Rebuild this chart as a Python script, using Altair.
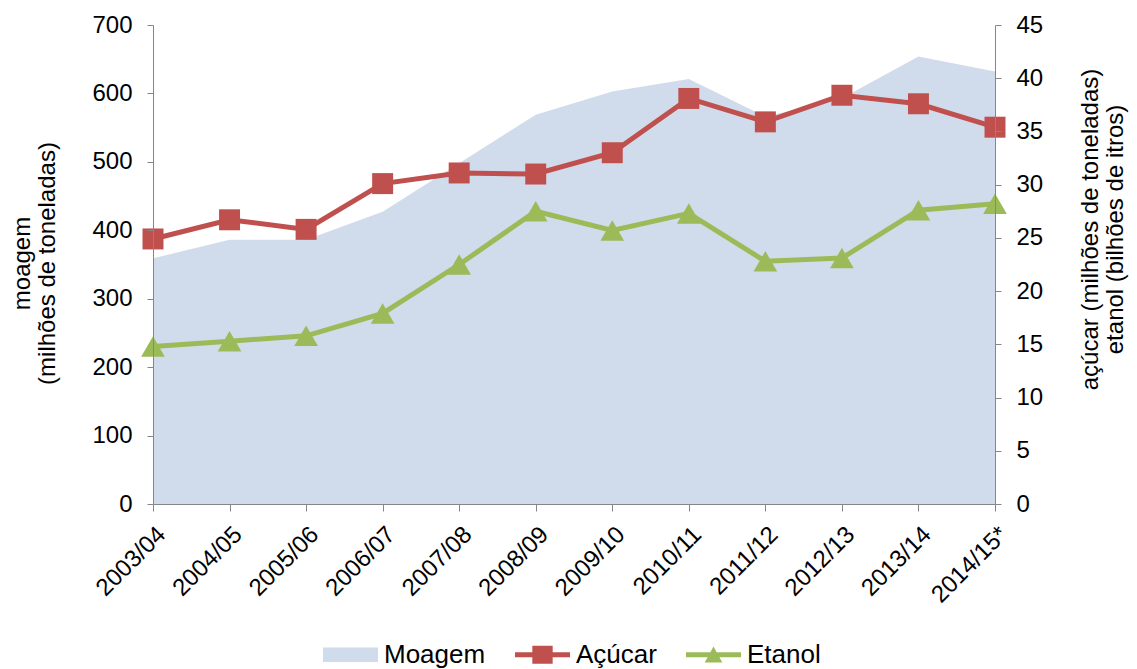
import altair as alt
import pandas as pd

# ---- data ----
safras = ["2003/04", "2004/05", "2005/06", "2006/07", "2007/08", "2008/09",
          "2009/10", "2010/11", "2011/12", "2012/13", "2013/14", "2014/15*"]
moagem = [359, 386, 386, 427, 498, 569, 603, 621, 566, 593, 654, 632]
acucar = [24.9, 26.7, 25.8, 30.1, 31.1, 31.0, 33.0, 38.1, 35.9, 38.4, 37.6, 35.4]
etanol = [14.8, 15.3, 15.8, 17.9, 22.5, 27.5, 25.7, 27.3, 22.8, 23.1, 27.6, 28.2]

left_ticks = [0, 100, 200, 300, 400, 500, 600, 700]
right_ticks = [0, 5, 10, 15, 20, 25, 30, 35, 40, 45]

legend_labels = ["Moagem", "Açúcar", "Etanol"]
left_title = ["moagem", "(milhões de toneladas)"]
right_title = ["açúcar (milhões de toneladas)", "etanol (bilhões de itros)"]

# ---- styles ----
FONT = "Liberation Sans"
C_AREA = "#D0DCEC"
C_RED = "#C0504D"
C_GREEN = "#9BBB59"
AXIS_GRAY = "#868686"
legend_colors = [C_AREA, C_RED, C_GREEN]
legend_shapes = [
    "M-1,-0.26H1V0.26H-1Z",
    "M-1,-0.095H1V0.095H-1Z M-0.37,-0.33H0.37V0.33H-0.37Z",
    "M-1,-0.095H1V0.095H-1Z M0,-0.3L0.32,0.28L-0.32,0.28Z",
]

df_left = pd.DataFrame({"safra": safras, "moagem": moagem})
df_right = pd.DataFrame({
    "safra": safras * 2,
    "serie": ["Açúcar"] * len(safras) + ["Etanol"] * len(safras),
    "valor": acucar + etanol,
})
df_legend = pd.DataFrame({"serie": legend_labels})

x_enc = alt.X(
    "safra:N", sort=safras, scale=alt.Scale(padding=0),
    axis=alt.Axis(title=None, labelAngle=-45, labelAlign="right", labelBaseline="top",
                  labelPadding=11, tickSize=7, labelFontSize=24, labelFont=FONT,
                  labelColor="black", domainColor=AXIS_GRAY, tickColor=AXIS_GRAY,
                  zindex=1),
)

area = alt.Chart(df_left).mark_area(color=C_AREA, opacity=1).encode(
    x=x_enc,
    y=alt.Y("moagem:Q", scale=alt.Scale(domain=[0, 700], nice=False),
            axis=alt.Axis(values=left_ticks, title=left_title, orient="left",
                          titleAngle=-90, titleBaseline="middle", titleAlign="center",
                          titleX=-131, titleY=238, titleFontSize=24,
                          titleFontWeight="normal", titleFont=FONT, titleColor="black",
                          titleLineHeight=25, labelFontSize=24, labelFont=FONT,
                          labelColor="black", labelPadding=15, tickSize=6,
                          domainColor=AXIS_GRAY, tickColor=AXIS_GRAY, grid=False,
                          zindex=1)),
)

y_right = alt.Y("valor:Q", scale=alt.Scale(domain=[0, 45], nice=False),
                axis=alt.Axis(values=right_ticks, title=right_title, orient="right",
                              titleAngle=-90, titleBaseline="middle", titleAlign="center",
                              titleX=95, titleY=204, titleFontSize=24,
                              titleFontWeight="normal", titleFont=FONT, titleColor="black",
                              titleLineHeight=25, labelFontSize=24, labelFont=FONT,
                              labelColor="black", labelPadding=15, tickSize=6,
                              domainColor=AXIS_GRAY, tickColor=AXIS_GRAY, grid=False,
                              zindex=1))

base_r = alt.Chart(df_right)
line_a = base_r.transform_filter(alt.datum.serie == "Açúcar").mark_line(
    color=C_RED, strokeWidth=5).encode(x=x_enc, y=y_right)
pts_a = base_r.transform_filter(alt.datum.serie == "Açúcar").mark_point(
    shape="square", filled=True, color=C_RED, size=440, opacity=1).encode(x=x_enc, y=y_right)
line_e = base_r.transform_filter(alt.datum.serie == "Etanol").mark_line(
    color=C_GREEN, strokeWidth=5).encode(x=x_enc, y=y_right)
pts_e = base_r.transform_filter(alt.datum.serie == "Etanol").mark_point(
    shape="triangle-up", filled=True, color=C_GREEN, size=560, opacity=1).encode(x=x_enc, y=y_right)

right_layer = alt.layer(line_a, pts_a, line_e, pts_e)

leg = alt.Legend(title=None, orient="none", legendX=170, legendY=602,
                 direction="horizontal", symbolSize=3025, symbolStrokeWidth=0,
                 labelFont=FONT, labelFontSize=26, labelColor="black",
                 labelOffset=6, columnPadding=29)

legend_layer = alt.Chart(df_legend).transform_filter("false").mark_point(
    filled=True, opacity=1).encode(
    color=alt.Color("serie:N", scale=alt.Scale(domain=legend_labels, range=legend_colors),
                    legend=leg),
    shape=alt.Shape("serie:N", scale=alt.Scale(domain=legend_labels, range=legend_shapes),
                    legend=leg),
)

chart = alt.layer(area, right_layer, legend_layer).resolve_scale(
    y="independent"
).properties(
    width=842, height=479,
    autosize=alt.AutoSizeParams(type="none"),
    padding={"left": 145, "top": 17, "right": 134, "bottom": 165},
).configure_view(stroke=None)

chart.save("out.html", embed_options={"renderer": "svg", "actions": False})
